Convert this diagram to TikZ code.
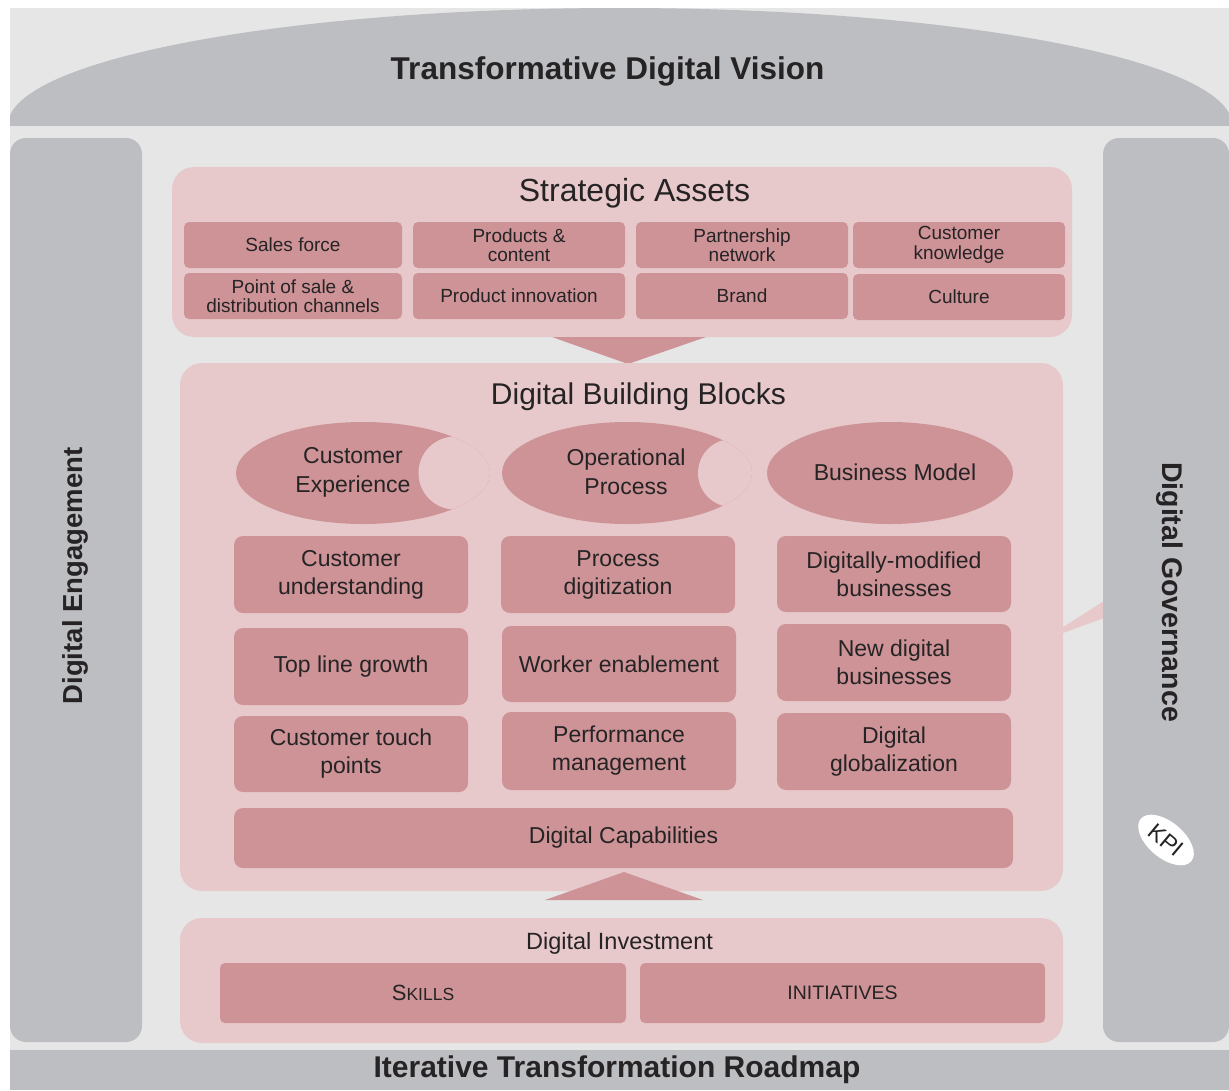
\documentclass[tikz,border=0pt]{standalone}
\usepackage{fontspec}
\setmainfont{Liberation Sans}
\usetikzlibrary{shapes.geometric}
\definecolor{bgL}{HTML}{E6E6E6}
\definecolor{grayD}{HTML}{BDBEC2}
\definecolor{pinkL}{HTML}{E8C9CB}
\definecolor{pinkD}{HTML}{CD9397}
\definecolor{txt}{HTML}{262325}
\tikzset{
  asset/.style={fill=pinkD, rounded corners=5pt, inner sep=0pt, align=center, text=txt,
    font=\fontsize{19pt}{19.5pt}\selectfont, minimum height=46pt},
  block/.style={fill=pinkD, rounded corners=9pt, inner sep=0pt, align=center, text=txt,
    font=\fontsize{23pt}{28pt}\selectfont, minimum width=234pt},
  panel/.style={fill=pinkL, rounded corners=22pt},
  bar/.style={fill=grayD, rounded corners=16pt},
  title/.style={text=txt, inner sep=0pt, font=\fontsize{30pt}{34pt}\selectfont},
  btitle/.style={text=txt, inner sep=0pt, font=\bfseries\fontsize{30pt}{34pt}\selectfont},
  sidetitle/.style={text=txt, inner sep=0pt, font=\bfseries\fontsize{27.5pt}{32pt}\selectfont},
  ovaltext/.style={text=txt, inner sep=0pt, align=center, font=\fontsize{23pt}{29pt}\selectfont},
  invest/.style={fill=pinkD, rounded corners=5pt, inner sep=0pt, text=txt, minimum height=60pt,
    font=\fontsize{19.5pt}{21pt}\selectfont}
}
\begin{document}
\begin{tikzpicture}[x=1pt,y=-1pt]
\useasboundingbox (0,0) rectangle (1229,1090);
\fill[white] (0,0) rectangle (1229,1090);
\fill[bgL] (10,8) rectangle (1229,1090);
% top dome
\begin{scope}
  \clip (10,8) rectangle (1229,125);
  \fill[grayD] (620,125) ellipse [x radius=612pt, y radius=117pt];
\end{scope}
\node[btitle, font=\bfseries\fontsize{31.5pt}{34pt}\selectfont] (vision) at (607.5,71) {Transformative Digital Vision};
% bottom band
\fill[grayD] (10,1050) rectangle (1229,1090);
\node[btitle] (roadmap) at (617,1070) {Iterative Transformation Roadmap};
% side bars
\fill[bar] (10,138) rectangle (142,1042);
\node[sidetitle, rotate=90] (engage) at (75,576) {Digital Engagement};
\fill[pinkL] (1063,627) -- (1104,601) -- (1104,618) -- (1063,633) -- cycle;
\fill[bar] (1103,138) rectangle (1229,1042);
\node[sidetitle, rotate=-90, font=\bfseries\fontsize{28.5pt}{32pt}\selectfont] (govern) at (1170,592) {Digital Governance};
\node[ellipse, fill=white, rotate=-40, inner sep=0pt, minimum width=66pt, minimum height=36pt,
  text=txt, font=\fontsize{23pt}{24pt}\selectfont] (kpi) at (1166,840) {KPI};
% Strategic assets
\fill[panel] (172,167) rectangle (1072,337);
\node[title, font=\fontsize{32pt}{34pt}\selectfont] (sa) at (634.5,193) {Strategic Assets};
\node[asset, minimum width=218pt] (sa1) at (293,245) {Sales force};
\node[asset, minimum width=212pt] (sa2) at (519,245) {Products \&\\content};
\node[asset, minimum width=212pt] (sa3) at (742,245) {Partnership\\network};
\node[asset, minimum width=212pt] (sa4) at (959,245) {Customer\\knowledge};
\node[asset, minimum width=218pt] (sa5) at (293,296) {Point of sale \&\\distribution channels};
\node[asset, minimum width=212pt] (sa6) at (519,296) {Product innovation};
\node[asset, minimum width=212pt] (sa7) at (742,296) {Brand};
\node[asset, minimum width=212pt] (sa8) at (959,297) {Culture};
% down arrow
\fill[pinkD] (552,337) -- (706,337) -- (628,364) -- cycle;
% Digital building blocks
\fill[panel] (180,363) rectangle (1063,891);
\node[title] (dbb) at (638.5,397) {Digital Building Blocks};
% ovals
\fill[pinkD] (363,473) ellipse [x radius=127pt, y radius=51pt];
\begin{scope}
  \clip (363,473) ellipse [x radius=127pt, y radius=51pt];
  \fill[pinkL] (455,473) circle [radius=36.5pt];
\end{scope}
\fill[pinkD] (627,473) ellipse [x radius=125pt, y radius=51pt];
\begin{scope}
  \clip (627,473) ellipse [x radius=125pt, y radius=51pt];
  \fill[pinkL] (732,473) circle [radius=34pt];
\end{scope}
\fill[pinkD] (890,473) ellipse [x radius=123pt, y radius=51pt];
\node[ovaltext] (ce) at (353,472) {Customer\\Experience};
\node[ovaltext] (op) at (626,472) {Operational\\Process};
\node[ovaltext] (bm) at (895,472) {Business Model};
% blocks
\node[block, minimum height=77pt] (b11) at (351,574.5) {Customer\\understanding};
\node[block, minimum height=77pt] (b12) at (618,574.5) {Process\\digitization};
\node[block, minimum height=76pt] (b13) at (894,574) {Digitally-modified\\businesses};
\node[block, minimum height=77pt] (b21) at (351,666.5) {Top line growth};
\node[block, minimum height=76pt] (b22) at (619,664) {Worker enablement};
\node[block, minimum height=77pt] (b23) at (894,662.5) {New digital\\businesses};
\node[block, minimum height=76pt] (b31) at (351,754) {Customer touch\\points};
\node[block, minimum height=78pt] (b32) at (619,751) {Performance\\management};
\node[block, minimum height=77pt] (b33) at (894,751.5) {Digital\\globalization};
\node[block, minimum width=779pt, minimum height=60pt] (cap) at (623.5,838) {Digital Capabilities};
% up arrow
\fill[pinkD] (545,900) -- (703,900) -- (624,872) -- cycle;
% Digital investment
\fill[panel] (180,918) rectangle (1063,1043);
\node[text=txt, inner sep=0pt, font=\fontsize{23.5pt}{26pt}\selectfont] (di) at (619.5,943) {Digital Investment};
\node[invest, minimum width=406pt, font=\fontsize{22pt}{24pt}\selectfont] (skills) at (423,993) {S{\fontsize{17.5pt}{20pt}\selectfont KILLS}};
\node[invest, minimum width=405pt] (init) at (842.5,993) {INITIATIVES};
\end{tikzpicture}
\end{document}
